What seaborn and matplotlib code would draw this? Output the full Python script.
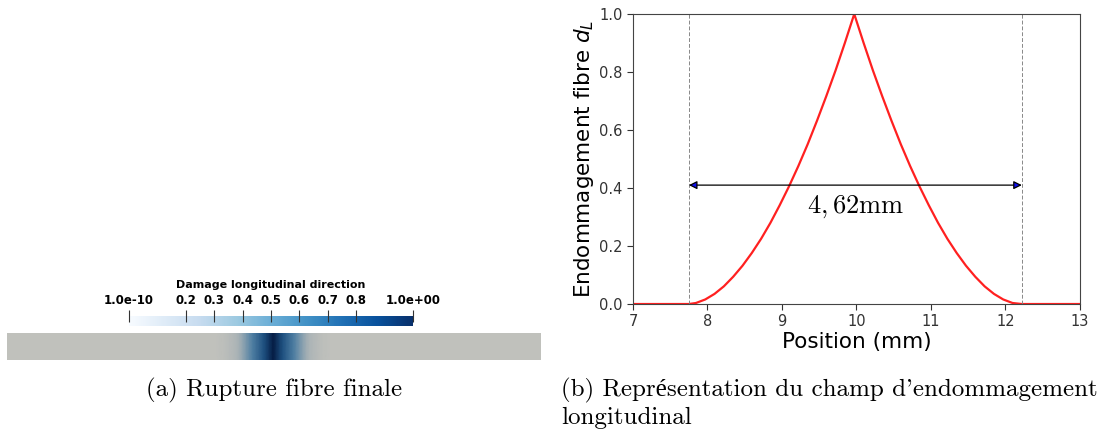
import numpy as np
import pandas as pd
import seaborn as sns
import matplotlib.pyplot as plt
from matplotlib.colors import LinearSegmentedColormap, Normalize
from matplotlib.cm import ScalarMappable

# damage profile
position = [7.0, 7.75, 7.845, 7.97, 8.095, 8.22, 8.345, 8.47, 8.595, 8.72, 8.845,
            8.97, 9.095, 9.22, 9.345, 9.47, 9.595, 9.72, 9.845, 9.97,
            10.095, 10.22, 10.345, 10.47, 10.595, 10.72, 10.845, 10.97, 11.095,
            11.22, 11.345, 11.47, 11.595, 11.72, 11.845, 11.97, 12.095, 12.22, 13.0]
damage = [0.0, 0.0, 0.0035, 0.0157, 0.035, 0.061, 0.094, 0.132, 0.176, 0.225, 0.28,
          0.341, 0.406, 0.476, 0.551, 0.632, 0.717, 0.806, 0.901, 1.0,
          0.901, 0.806, 0.717, 0.632, 0.551, 0.476, 0.406, 0.341, 0.28,
          0.225, 0.176, 0.132, 0.094, 0.061, 0.035, 0.0157, 0.0035, 0.0, 0.0]
band_left, band_right = 7.75, 12.22
band_y = 0.41
band_label = r'$4,62\mathrm{mm}$'

cbar_ticks = [1e-10, 0.2, 0.3, 0.4, 0.5, 0.6, 0.7, 0.8, 1.0]
cbar_labels = ['1.0e-10', '0.2', '0.3', '0.4', '0.5', '0.6', '0.7', '0.8', '1.0e+00']
fibre_length = 20.0

df = pd.DataFrame({'Position': position, 'Damage': damage})

fig = plt.figure(figsize=(11.02, 4.34), dpi=100)

# ---- right panel: damage curve
ax = fig.add_axes([0.5744, 0.2995, 0.4056, 0.6682])
sns.lineplot(data=df, x='Position', y='Damage', color='#ff2020', lw=1.6, ax=ax)
ax.set_xlim(7, 13)
ax.set_ylim(0, 1)
ax.set_xticks([7, 8, 9, 10, 11, 12, 13])
ax.set_yticks([0.0, 0.2, 0.4, 0.6, 0.8, 1.0])
ax.set_yticklabels(['0.0', '0.2', '0.4', '0.6', '0.8', '1.0'])
for x in (band_left, band_right):
    ax.axvline(x, color='#888888', ls='--', lw=0.7, dashes=(4, 2))
ax.annotate('', xy=(band_left, band_y), xytext=(band_right, band_y),
            arrowprops=dict(arrowstyle='<|-|>', color='black', lw=0.9,
                            fc='#1010ee', mutation_scale=12, shrinkA=0, shrinkB=0))
ax.text((band_left + band_right) / 2, band_y - 0.03, band_label,
        ha='center', va='top', fontsize=19, math_fontfamily='cm')
ax.set_xlabel('Position (mm)', fontsize=15.5, labelpad=2)
ax.set_ylabel(r'Endommagement fibre $d_L$', fontsize=15.5, labelpad=2)
ax.tick_params(labelsize=10.5, colors='#333333', length=4)
for sp in ax.spines.values():
    sp.set_color('#444444')

# ---- left panel: colorbar
cax = fig.add_axes([0.1171, 0.2488, 0.2577, 0.023])
sm = ScalarMappable(norm=Normalize(0, 1), cmap='Blues')
cb = fig.colorbar(sm, cax=cax, orientation='horizontal')
cb.outline.set_visible(False)
cb.set_ticks(cbar_ticks)
cb.set_ticklabels(cbar_labels)
cax.xaxis.set_ticks_position('top')
cax.xaxis.set_label_position('top')
cax.tick_params(axis='x', direction='inout', length=9, width=0.8, color='#333333',
                labelsize=8.5, pad=2)
for lab in cax.get_xticklabels():
    lab.set_fontweight('bold')
fig.text(0.2459, 0.343, 'Damage longitudinal direction', ha='center', va='center',
         fontsize=8, fontweight='bold')

# ---- left panel: fibre bar
fax = fig.add_axes([0.00635, 0.1705, 0.4846, 0.0622])
bar_cmap = LinearSegmentedColormap.from_list(
    'fibre', [(0.0, '#c0c1bc'), (0.2, '#aab3b6'), (0.45, '#4f7fa3'),
              (0.75, '#1c4e7e'), (1.0, '#061d45')])
bar_x = [0.0] + position + [fibre_length]
bar_v = [0.0] + damage + [0.0]
xx, yy = np.meshgrid(bar_x, [0, 1])
fax.pcolormesh(xx, yy, np.vstack([bar_v, bar_v]), cmap=bar_cmap, vmin=0, vmax=1,
               shading='gouraud')
fax.set_xlim(0, fibre_length)
fax.set_ylim(0, 1)
fax.axis('off')

# ---- captions
cap = dict(fontsize=18, family=['cmr10', 'Liberation Serif'])
fig.text(0.2486, 0.101, '(a) Rupture fibre finale', ha='center', va='center', **cap)
fig.text(0.5095, 0.101, "(b) Représentation du champ d'endommagement",
         ha='left', va='center', **cap)
fig.text(0.5095, 0.037, 'longitudinal', ha='left', va='center', **cap)

fig.savefig('out.png', dpi=100)
